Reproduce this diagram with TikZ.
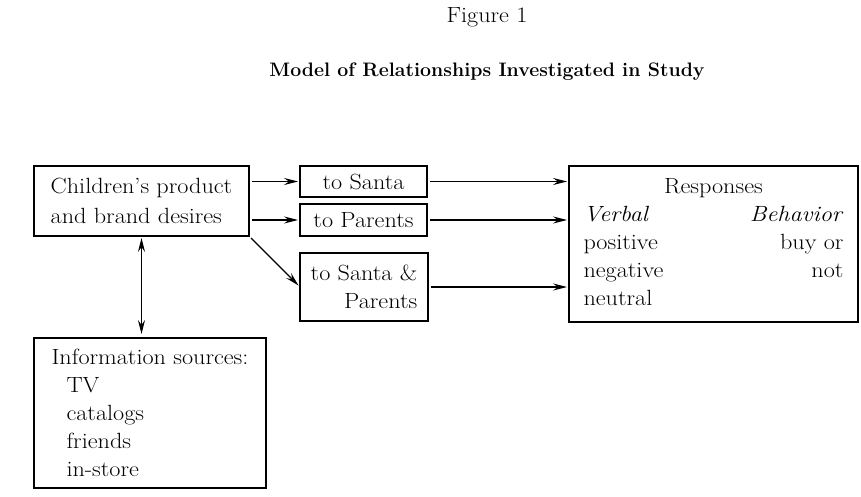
\documentclass[tikz,border=0pt]{standalone}
\usepackage{fontspec}
\setmainfont{Latin Modern Roman}[FakeStretch=1.1]
\newfontfamily\titlefont{Latin Modern Roman}
\usetikzlibrary{
positioning,%
arrows.meta
}
\tikzset{
    box/.style={draw, line width=1.8pt, inner sep=0pt, outer sep=0pt},
    heading/.style={font=\fontsize{22}{28}\selectfont},
    flow/.style = {-{Stealth[length=14pt, width=7pt, inset=5pt]}, line width=1.3pt, shorten <=3pt, shorten >=2pt},
    link/.style = {{Stealth[length=14pt, width=7pt, inset=5pt]}-{Stealth[length=14pt, width=7pt, inset=5pt]}, line width=1.3pt, shorten <=2pt, shorten >=4pt}
}
\newcommand{\txt}{\fontsize{22}{28}\selectfont}

\begin{document}
\begin{tikzpicture}[x=1pt, y=-1pt, font=\txt]
            \useasboundingbox (0,0) rectangle (861,497);
            \node[heading] (fig) at (487,17) {Figure 1};
            \node[heading, font=\titlefont\fontsize{19.5}{24}\selectfont\bfseries] (title) at (487,72) {Model of Relationships Investigated in Study};
            % ----
            \node[box, minimum width=215pt, minimum height=70pt, align=left, font=\fontsize{22}{30}\selectfont] (desire) at (141.5,201) {Children's product\\and brand desires};
            \node[box, minimum width=127pt, minimum height=31pt, right=51pt of desire.north east, anchor=north west] (santa) {to Santa};
            \node[box, minimum width=127pt, minimum height=32pt, below=7pt of santa] (parents) {to Parents};
            \node[box, minimum width=128pt, minimum height=68pt, align=right, below=17pt of parents.south west, anchor=north west] (both) {to Santa \&\\Parents};
            \node[box, minimum width=289pt, minimum height=156pt, right=142pt of santa.north east, anchor=north west] (resp) {%
            \begin{tabular*}{260pt}{@{}l@{\extracolsep{\fill}}r@{}}
            \multicolumn{2}{c}{Responses}\\
            \textit{Verbal} & \textit{Behavior}\\
            positive & buy or\\
            negative & not\\
            neutral &
            \end{tabular*}};
            \node[box, minimum width=232pt, minimum height=150pt, align=left, below=102pt of desire.south west, anchor=north west] (info) {Information sources:\\
            \hspace*{15pt}TV\\
            \hspace*{15pt}catalogs\\
            \hspace*{15pt}friends\\
            \hspace*{15pt}in-store};
            % ----
            \draw[flow] (desire.east |- santa) -- (santa);
            \draw[flow] (desire.east |- parents) -- (parents);
            \draw[flow] (desire.south east) -- (both.west);
            \draw[flow] (santa) -- (santa -| resp.west);
            \draw[flow] (parents) -- (parents -| resp.west);
            \draw[flow] (both) -- (both -| resp.west);
            \draw[link] (desire.south) -- (desire.south |- info.north);
        \end{tikzpicture}
\end{document}
